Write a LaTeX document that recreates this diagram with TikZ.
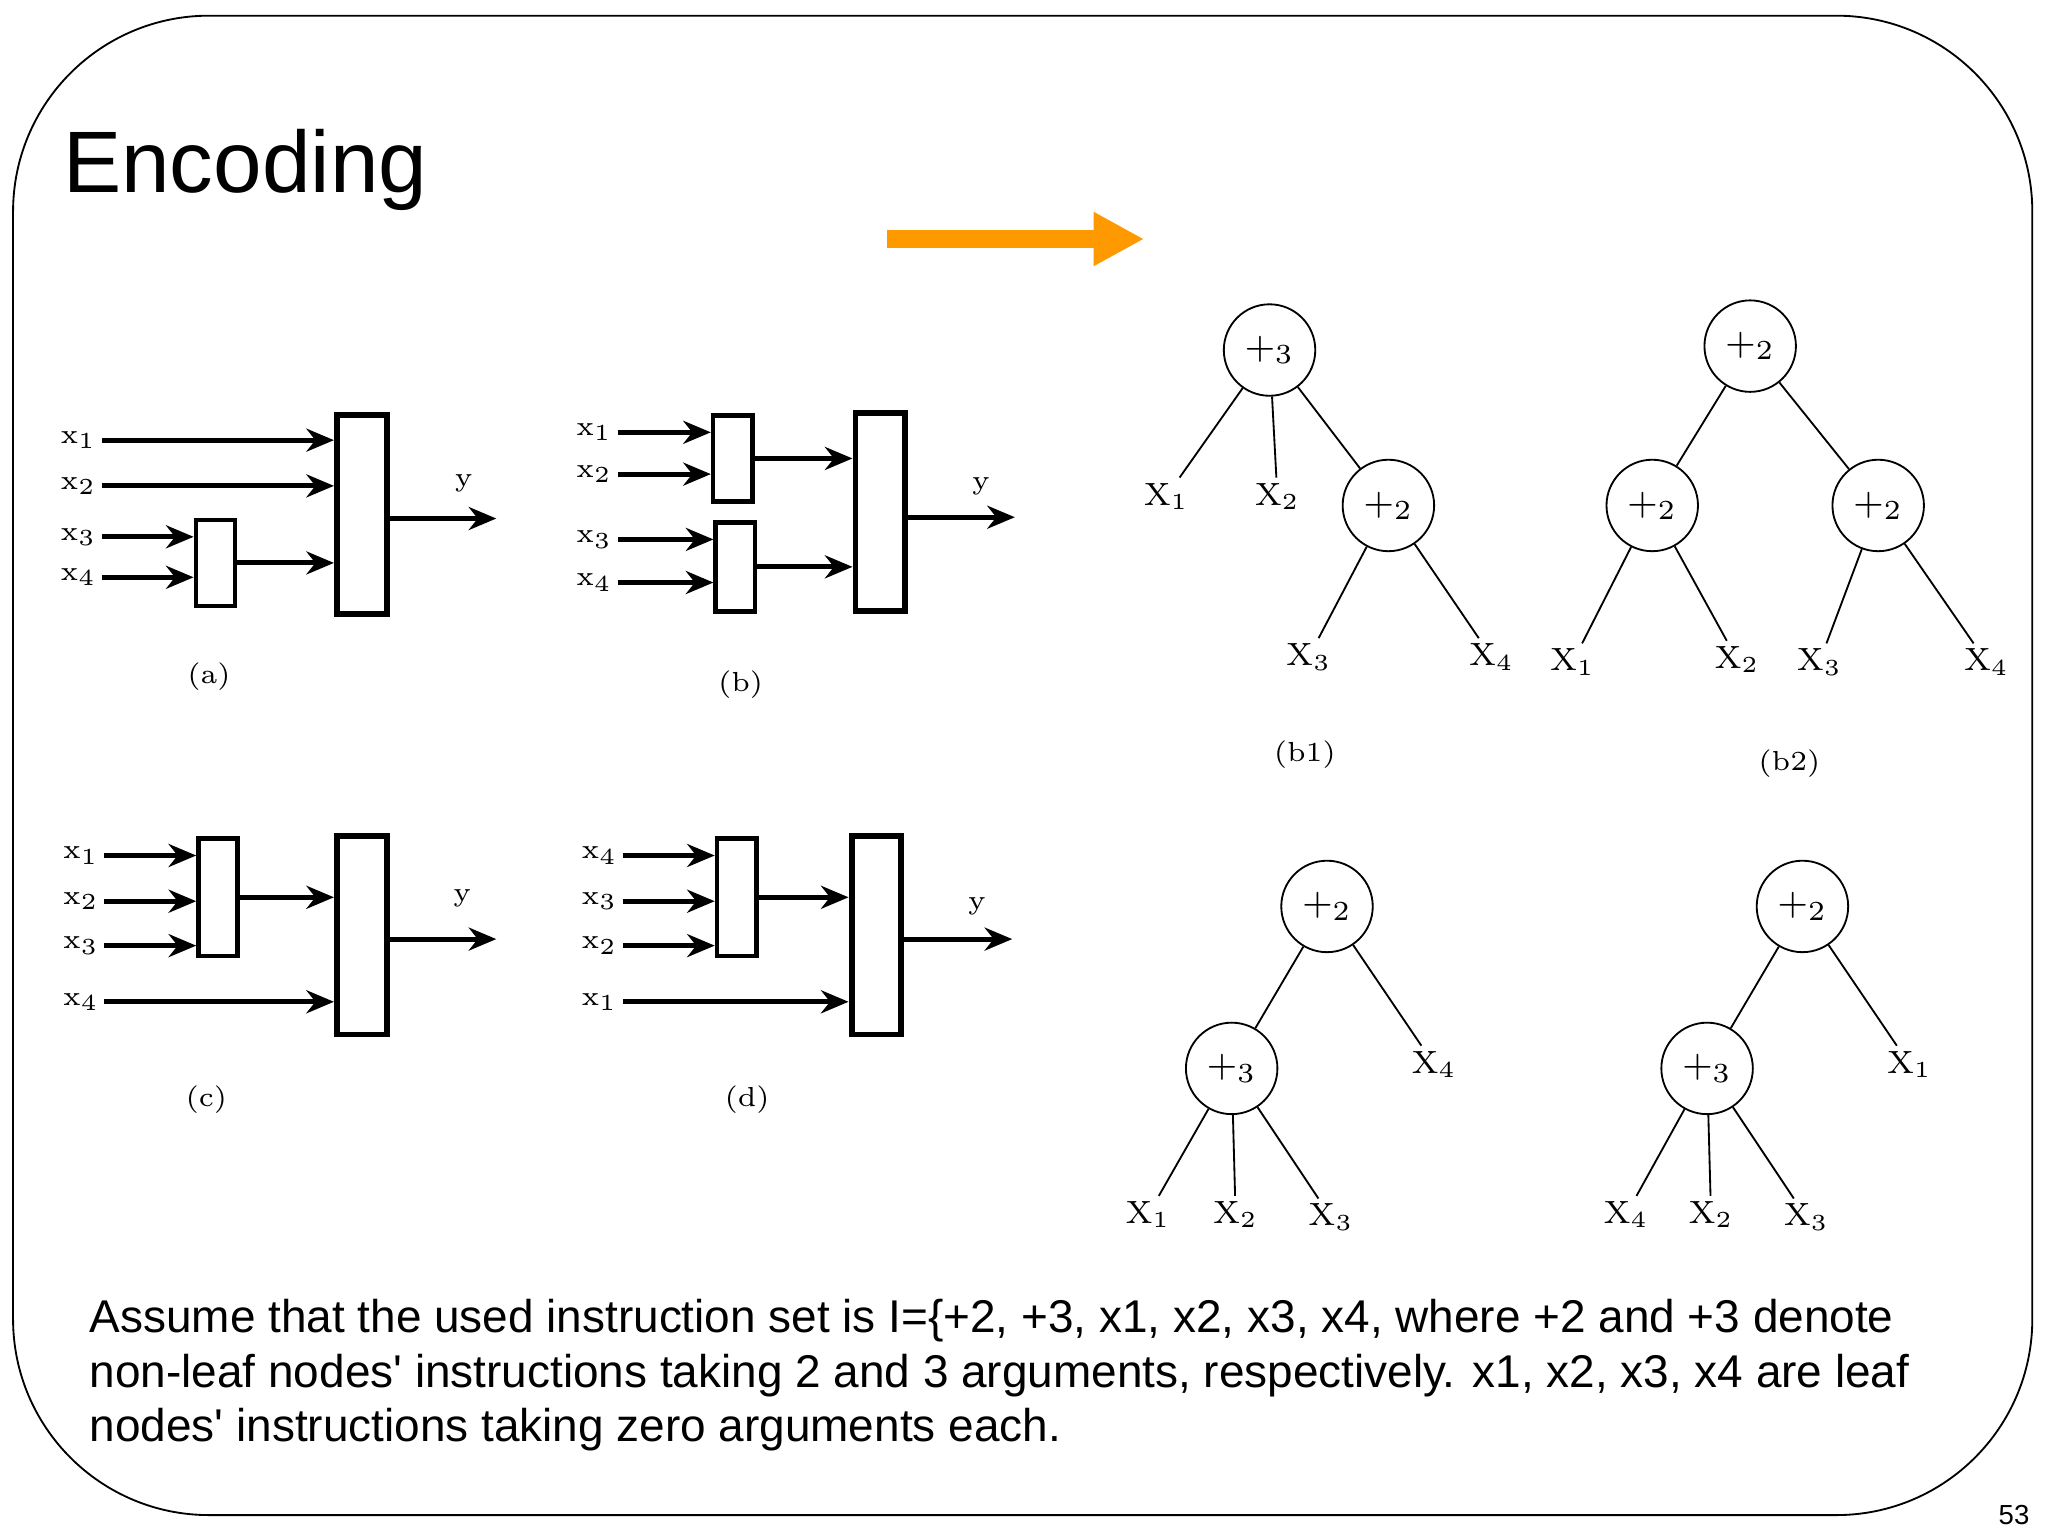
\documentclass[tikz,border=0pt]{standalone}
\usepackage{fontspec}
\newfontfamily\sans{Liberation Sans}
\usetikzlibrary{arrows.meta}
\tikzset{
  box/.style={draw,line width=1.3pt,minimum width=0.38cm,inner sep=0pt},
  sbox/.style={draw,line width=1pt,minimum width=0.3cm,inner sep=0pt},
  feed/.style={line width=1.1pt,-{Stealth[length=6pt,width=5pt]}},
  inp/.style={inner sep=1pt,font=\fontsize{6}{6}\selectfont},
  caption/.style={font=\fontsize{6}{6}\selectfont},
  op/.style={draw,circle,thin,minimum size=0.7cm,inner sep=0pt,font=\fontsize{8}{8}\selectfont},
  leaf/.style={inner sep=1pt,font=\fontsize{7}{7}\selectfont},
  edge/.style={thin}
}
\begin{document}
\begin{tikzpicture}[x=0.01cm,y=-0.01cm]
\useasboundingbox (0,0) rectangle (1568,1176);
\draw[thin,rounded corners=1.5cm] (10,12) rectangle (1556,1160);
\node[font=\sans\fontsize{6}{6}\selectfont] (pg) at (1542,1160) {53};
\node[anchor=west,font=\sans\fontsize{19}{19}\selectfont] (title) at (36,130) {Encoding};
\coordinate (oa) at (679,183);
\coordinate (ob) at (876,183);
\draw[orange!80!yellow,line width=4pt,-{Triangle[length=11pt,width=11pt]}] (oa) -- (ob);

% (a)
\node[box,minimum height=1.52cm] (bA) at (277,394) {};
\node[sbox,minimum height=0.66cm] (sA) at (165,431) {};
\node[inp] (a1) at (60,337) {x$_1$};
\node[inp] (a2) at (60,372) {x$_2$};
\node[inp] (a3) at (60,411) {x$_3$};
\node[inp] (a4) at (60,442) {x$_4$};
\draw[feed] (a1) -- (a1 -| bA.west);
\draw[feed] (a2) -- (a2 -| bA.west);
\draw[feed] (a3) -- (a3 -| sA.west);
\draw[feed] (a4) -- (a4 -| sA.west);
\draw[feed] (sA.east) -- (sA.east -| bA.west);
\coordinate (yA) at (380,397);
\draw[feed] (bA.east |- yA) -- (yA);
\node[inp] (la) at (355,370) {y};
\node[caption] (ca) at (160,518) {(a)};

% (b)
\node[box,minimum height=1.51cm] (bB) at (674,392) {};
\node[sbox,minimum height=0.66cm] (sB1) at (561,351) {};
\node[sbox,minimum height=0.68cm] (sB2) at (563,434) {};
\node[inp] (b1) at (455,331) {x$_1$};
\node[inp] (b2) at (455,363) {x$_2$};
\node[inp] (b3) at (455,413) {x$_3$};
\node[inp] (b4) at (455,446) {x$_4$};
\draw[feed] (b1) -- (b1 -| sB1.west);
\draw[feed] (b2) -- (b2 -| sB1.west);
\draw[feed] (b3) -- (b3 -| sB2.west);
\draw[feed] (b4) -- (b4 -| sB2.west);
\draw[feed] (sB1.east) -- (sB1.east -| bB.west);
\draw[feed] (sB2.east) -- (sB2.east -| bB.west);
\coordinate (yB) at (777,396);
\draw[feed] (bB.east |- yB) -- (yB);
\node[inp] (lb) at (751,372) {y};
\node[caption] (cb) at (567,524) {(b)};

% (c)
\node[box,minimum height=1.52cm] (bC) at (277,716) {};
\node[sbox,minimum height=0.9cm] (sC) at (167,687) {};
\node[inp] (c1) at (62,655) {x$_1$};
\node[inp] (c2) at (62,690) {x$_2$};
\node[inp] (c3) at (62,724) {x$_3$};
\node[inp] (c4) at (62,767) {x$_4$};
\draw[feed] (c1) -- (c1 -| sC.west);
\draw[feed] (c2) -- (c2 -| sC.west);
\draw[feed] (c3) -- (c3 -| sC.west);
\draw[feed] (c4) -- (c4 -| bC.west);
\draw[feed] (sC.east) -- (sC.east -| bC.west);
\coordinate (yC) at (380,719);
\draw[feed] (bC.east |- yC) -- (yC);
\node[inp] (lc) at (354,688) {y};
\node[caption] (cc) at (158,842) {(c)};

% (d)
\node[box,minimum height=1.52cm] (bD) at (671,716) {};
\node[sbox,minimum height=0.9cm] (sD) at (564,687) {};
\node[inp] (d4) at (459,655) {x$_4$};
\node[inp] (d3) at (459,690) {x$_3$};
\node[inp] (d2) at (459,724) {x$_2$};
\node[inp] (d1) at (459,767) {x$_1$};
\draw[feed] (d4) -- (d4 -| sD.west);
\draw[feed] (d3) -- (d3 -| sD.west);
\draw[feed] (d2) -- (d2 -| sD.west);
\draw[feed] (d1) -- (d1 -| bD.west);
\draw[feed] (sD.east) -- (sD.east -| bD.west);
\coordinate (yD) at (775,719);
\draw[feed] (bD.east |- yD) -- (yD);
\node[inp] (ld) at (748,694) {y};
\node[caption] (cd) at (572,842) {(d)};

% tree b1
\node[op] (p1) at (972,268) {$+_3$};
\node[op] (p2) at (1063,387) {$+_2$};
\node[leaf] (t1) at (893,380) {X$_1$};
\node[leaf] (t2) at (978,380) {X$_2$};
\node[leaf] (t3) at (1002,503) {X$_3$};
\node[leaf] (t4) at (1142,503) {X$_4$};
\draw[edge] (p1) -- (t1);
\draw[edge] (p1) -- (t2);
\draw[edge] (p1) -- (p2);
\draw[edge] (p2) -- (t3);
\draw[edge] (p2) -- (t4);
\node[caption] (cb1) at (999,578) {(b1)};

% tree b2
\node[op] (q1) at (1340,265) {$+_2$};
\node[op] (q2) at (1265,387) {$+_2$};
\node[op] (q3) at (1438,387) {$+_2$};
\node[leaf] (u1) at (1204,507) {X$_1$};
\node[leaf] (u2) at (1330,505) {X$_2$};
\node[leaf] (u3) at (1393,507) {X$_3$};
\node[leaf] (u4) at (1521,507) {X$_4$};
\draw[edge] (q1) -- (q2);
\draw[edge] (q1) -- (q3);
\draw[edge] (q2) -- (u1);
\draw[edge] (q2) -- (u2);
\draw[edge] (q3) -- (u3);
\draw[edge] (q3) -- (u4);
\node[caption] (cb2) at (1370,585) {(b2)};

% tree c
\node[op] (r1) at (1016,694) {$+_2$};
\node[op] (r2) at (943,818) {$+_3$};
\node[leaf] (v4) at (1098,815) {X$_4$};
\node[leaf] (v1) at (879,930) {X$_1$};
\node[leaf] (v2) at (946,930) {X$_2$};
\node[leaf] (v3) at (1019,932) {X$_3$};
\draw[edge] (r1) -- (r2);
\draw[edge] (r1) -- (v4);
\draw[edge] (r2) -- (v1);
\draw[edge] (r2) -- (v2);
\draw[edge] (r2) -- (v3);

% tree d
\node[op] (s1) at (1380,694) {$+_2$};
\node[op] (s2) at (1307,818) {$+_3$};
\node[leaf] (w1) at (1462,815) {X$_1$};
\node[leaf] (w4) at (1245,930) {X$_4$};
\node[leaf] (w2) at (1310,930) {X$_2$};
\node[leaf] (w3) at (1383,932) {X$_3$};
\draw[edge] (s1) -- (s2);
\draw[edge] (s1) -- (w1);
\draw[edge] (s2) -- (w4);
\draw[edge] (s2) -- (w2);
\draw[edge] (s2) -- (w3);

\node[anchor=north west,align=left,inner sep=0pt,font=\sans\fontsize{10}{11.9}\selectfont] (txt) at (68,994)
{Assume that the used instruction set is I=\{+2, +3, x1, x2, x3, x4, where +2 and +3 denote\\
non-leaf nodes' instructions taking 2 and 3 arguments, respectively. x1, x2, x3, x4 are leaf\\
nodes' instructions taking zero arguments each.};
\end{tikzpicture}
\end{document}
